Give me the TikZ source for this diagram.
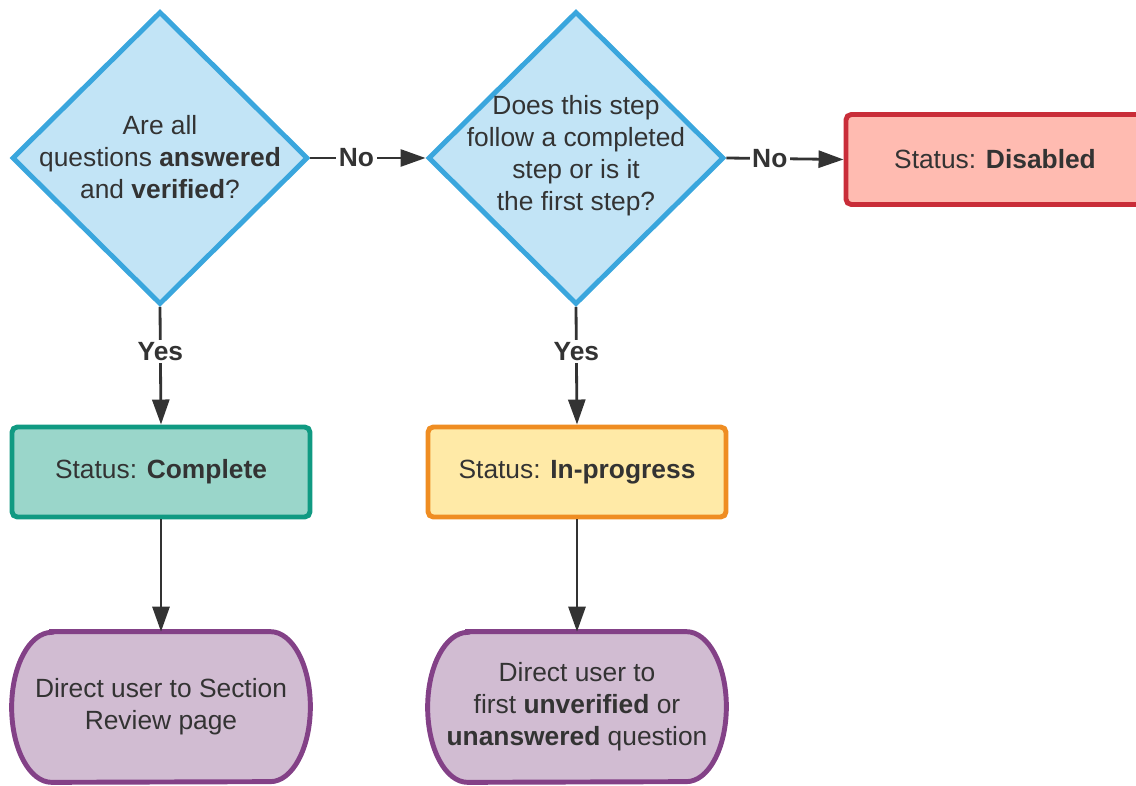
\documentclass[tikz,border=0pt]{standalone}
\usepackage{fontspec}
\setmainfont{Liberation Sans}
\usetikzlibrary{shapes.geometric,arrows.meta,backgrounds}

\definecolor{ink}{HTML}{333333}
\definecolor{qedge}{HTML}{3AA6DD}
\definecolor{qfill}{HTML}{C2E4F6}
\definecolor{offedge}{HTML}{C92D39}
\definecolor{offfill}{HTML}{FFBBB1}
\definecolor{doneedge}{HTML}{109A82}
\definecolor{donefill}{HTML}{9AD6CA}
\definecolor{busyedge}{HTML}{EF8D22}
\definecolor{busyfill}{HTML}{FFEAA7}
\definecolor{endedge}{HTML}{834187}
\definecolor{endfill}{HTML}{D1BCD2}

\begin{document}
\begin{tikzpicture}[
  x=1cm,
  y=1cm,
  font=\fontsize{15}{18.2}\selectfont,
  text=ink,
  decision/.style={diamond,draw=qedge,fill=qfill,line width=2.8pt,
    minimum width=5.92cm,minimum height=5.86cm,inner sep=0pt},
  qtext/.style={align=center,inner sep=0pt},
  statusbox/.style={line width=2.8pt,rounded corners=3pt,
    minimum width=5.96cm,minimum height=1.8cm},
  terminal/.style={minimum width=5.96cm,minimum height=3.0cm,align=center,inner sep=0pt},
  termline/.style={draw=endedge,fill=endfill,line width=2.8pt},
  flow/.style={draw=ink,line width=1.6pt,-{Triangle[length=0.5cm,width=0.34cm]}},
  answer/.style={fill=white,inner sep=1.5pt,font=\fontsize{15}{18.2}\selectfont\bfseries}
]
\useasboundingbox (0,0) rectangle (22.72,15.70);

% the two questions
\node[decision] (q1) at (3.20,12.54) {};
\node[qtext] (q1text) at (3.20,12.56)
  {Are all\\questions \textbf{answered}\\and \textbf{verified}?};
\node[decision] (q2) at (11.52,12.54) {};
\node[qtext] (q2text) at (11.52,12.58)
  {Does this step\\follow a completed\\step or is it\\the first step?};

% statuses
\node[statusbox,draw=offedge,fill=offfill] (disabled) at (19.90,12.51)
  {Status: \textbf{Disabled}};
\node[statusbox,draw=doneedge,fill=donefill] (complete) at (3.22,6.26)
  {Status: \textbf{Complete}};
\node[statusbox,draw=busyedge,fill=busyfill] (progress) at (11.54,6.26)
  {Status: \textbf{In-progress}};

% where the user goes
\node[terminal] (review) at (3.22,1.56)
  {Direct user to Section\\Review page};
\node[terminal] (firstopen) at (11.54,1.56)
  {Direct user to\\first \textbf{unverified} or\\\textbf{unanswered} question};

\begin{scope}[on background layer]
  \draw[termline] ([xshift=0.8cm]review.north west) -- ([xshift=-0.8cm]review.north east)
    arc[start angle=90,end angle=-90,x radius=0.8cm,y radius=1.5cm]
    -- ([xshift=0.8cm]review.south west)
    arc[start angle=270,end angle=90,x radius=0.8cm,y radius=1.5cm] -- cycle;
  \draw[termline] ([xshift=0.8cm]firstopen.north west) -- ([xshift=-0.8cm]firstopen.north east)
    arc[start angle=90,end angle=-90,x radius=0.8cm,y radius=1.5cm]
    -- ([xshift=0.8cm]firstopen.south west)
    arc[start angle=270,end angle=90,x radius=0.8cm,y radius=1.5cm] -- cycle;
\end{scope}

% connectors
\draw[flow] (q1.east) -- node[answer,pos=0.4] (no1) {No} (q2.west);
\draw[flow] (q2.east) -- node[answer,pos=0.37] (no2) {No} (disabled.west);
\draw[flow] (q1.south) -- node[answer,pos=0.38] (yes1) {Yes} (complete.north);
\draw[flow] (q2.south) -- node[answer,pos=0.38] (yes2) {Yes} (progress.north);
\draw[flow] (complete.south) -- (review.north);
\draw[flow] (progress.south) -- (firstopen.north);
\end{tikzpicture}
\end{document}
